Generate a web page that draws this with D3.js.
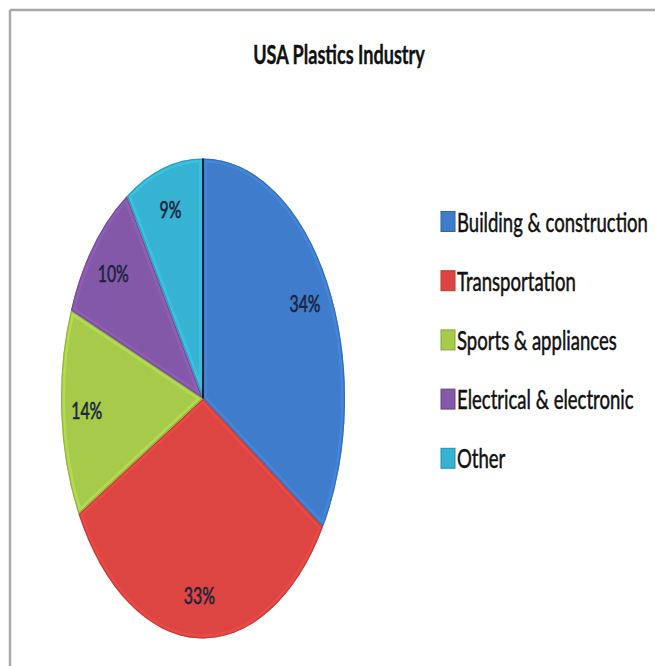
<!DOCTYPE html>
<html><head><meta charset="utf-8">
<script src="https://cdn.jsdelivr.net/npm/d3@7"></script>
<style>body{margin:0;background:#fff}svg{display:block}</style></head>
<body><svg id="c" width="655" height="666"></svg>
<script>
const title = "USA Plastics Industry";
const categories = ["Building & construction","Transportation","Sports & appliances","Electrical & electronic","Other"];
const values = [34, 33, 14, 10, 9];
const valueLabels = ["34%","33%","14%","10%","9%"];
const colors = ["#3F7CCB","#DC4541","#A6CB4A","#8458A8","#36B3D2"];

const svg = d3.select("#c");
const FONT = "Lato, 'Open Sans', sans-serif";

// frame
svg.append("rect").attr("width",655).attr("height",666).attr("fill","#fff");
svg.append("line").attr("x1",10).attr("x2",655).attr("y1",10).attr("y2",10).attr("stroke","#a8a8a8").attr("stroke-width",2.5);
svg.append("line").attr("x1",10).attr("x2",10).attr("y1",10).attr("y2",666).attr("stroke","#a8a8a8").attr("stroke-width",2.5);

function squeeze(sel, targetW){
  const w = sel.node().getBBox().width;
  return targetW / w;
}

// title
const t = svg.append("text").text(title)
  .attr("font-family",FONT).attr("font-weight",700).attr("font-size",26)
  .attr("fill","#111").attr("stroke","#111").attr("stroke-width",0.4).attr("text-anchor","middle");
const ts = squeeze(t,172);
t.attr("transform",`translate(339,64) scale(${ts},1)`);

// pie
const cx = 203, cy = 398.5, R = 142, ky = 1.69;
const pie = d3.pie().sort(null).value(d=>d)(values);
const arc = d3.arc().innerRadius(0).outerRadius(R);
const labelArc = d3.arc().innerRadius(R*0.82).outerRadius(R*0.82);
const defs = svg.append("defs");
const g = svg.append("g").attr("transform",`translate(${cx},${cy}) scale(1,${ky})`);

pie.forEach((d,i)=>{
  defs.append("clipPath").attr("id","cl"+i).append("path").attr("d",arc(d));
  const c = d3.color(colors[i]);
  g.append("path").attr("d",arc(d)).attr("fill",colors[i]);
  // bevel highlight inside slice
  g.append("path").attr("d",arc(d)).attr("clip-path",`url(#cl${i})`)
    .attr("fill","none").attr("stroke",c.brighter(0.5)).attr("stroke-opacity",0.4)
    .attr("stroke-width",8).attr("vector-effect","non-scaling-stroke");
  g.append("path").attr("d",arc(d)).attr("clip-path",`url(#cl${i})`)
    .attr("fill","none").attr("stroke",c.darker(0.8)).attr("stroke-opacity",0.6)
    .attr("stroke-width",2.5).attr("vector-effect","non-scaling-stroke");
});
// dark separating edge at start angle
const a0 = pie[0].startAngle;
g.append("line").attr("x1",0).attr("y1",0)
  .attr("x2",R*Math.sin(a0)).attr("y2",-R*Math.cos(a0))
  .attr("stroke","#13243a").attr("stroke-width",2).attr("vector-effect","non-scaling-stroke");

// value labels
const lab = svg.append("g");
let lsx = null;
pie.forEach((d,i)=>{
  const p = labelArc.centroid(d);
  const x = cx + p[0], y = cy + p[1]*ky;
  const tx = lab.append("text").text(valueLabels[i])
    .attr("font-family",FONT).attr("font-size",23).attr("fill","#1a2540")
    .attr("stroke","#1a2540").attr("stroke-width",0.6)
    .attr("text-anchor","middle");
  if (lsx === null) lsx = squeeze(tx,31);
  tx.attr("transform",`translate(${x},${y+8.5}) scale(${lsx},1)`);
});

// legend
const leg = svg.append("g");
let gsx = null;
categories.forEach((name,i)=>{
  const base = 231.5 + i*59.2;
  const c = d3.color(colors[i]);
  leg.append("rect").attr("x",441).attr("y",base-20).attr("width",14).attr("height",20)
    .attr("fill",colors[i]).attr("stroke",c.darker(0.6)).attr("stroke-width",1);
  const tx = leg.append("text").text(name)
    .attr("font-family",FONT).attr("font-size",26).attr("fill","#111")
    .attr("stroke","#111").attr("stroke-width",0.5);
  if (gsx === null) gsx = squeeze(tx,191);
  tx.attr("transform",`translate(457,${base}) scale(${gsx},1)`);
});
</script></body></html>
